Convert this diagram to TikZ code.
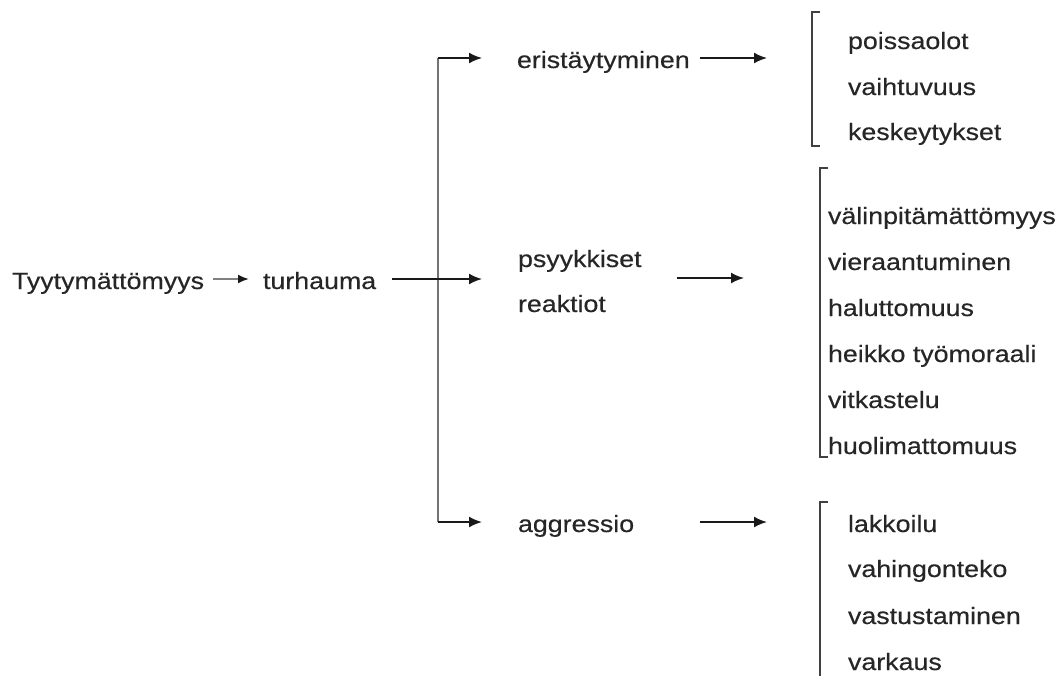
\documentclass[tikz,border=0pt]{standalone}
\usepackage{fontspec}
\setmainfont{Liberation Sans}[FakeStretch=1.14,FakeBold=0.4]
\usetikzlibrary{arrows.meta}
\tikzset{
  lbl/.style={anchor=base west, inner sep=0pt, outer sep=0pt, text=black!85, font=\fontsize{23.5}{27}\selectfont},
  arr/.style={line width=1.9pt, draw=black!90, -{Latex[length=13pt,width=11pt]}},
  garr/.style={line width=1.9pt, draw=black!50, -{Latex[length=11pt,width=9pt,color=black!90]}},
  trunk/.style={line width=2pt, draw=black!55},
  brk/.style={line width=1.8pt, draw=black!75}
}
\begin{document}
\begin{tikzpicture}[x=1pt,y=-1pt]
\useasboundingbox (0,0) rectangle (1062,675);
% left chain
\node[lbl] (tyy) at (12,289) {Tyytymättömyys};
\node[lbl] (tur) at (263,289) {turhauma};
\coordinate (a1s) at (213,279);
\coordinate (a1e) at (249,279);
\draw[garr] (a1s) -- (a1e);
% trunk
\coordinate (tTop) at (438,58);
\coordinate (tBot) at (438,522);
\draw[trunk] (tTop) -- (tBot);
\coordinate (a2s) at (392,279);
\coordinate (a2e) at (482,279);
\draw[arr] (a2s) -- (a2e);
\coordinate (a3e) at (482,58);
\coordinate (a4e) at (482,522);
\draw[arr] (tTop) -- (a3e);
\draw[arr] (tBot) -- (a4e);
% middle labels
\node[lbl] (eri) at (517,68) {eristäytyminen};
\node[lbl] (psy) at (518,267) {psyykkiset};
\node[lbl] (rea) at (518,312) {reaktiot};
\node[lbl] (agg) at (518,532) {aggressio};
% arrows to brackets
\coordinate (b1s) at (700,58);
\coordinate (b1e) at (767,58);
\draw[arr] (b1s) -- (b1e);
\coordinate (b2s) at (677,278);
\coordinate (b2e) at (744,278);
\draw[arr] (b2s) -- (b2e);
\coordinate (b3s) at (700,522);
\coordinate (b3e) at (767,522);
\draw[arr] (b3s) -- (b3e);
% brackets
\draw[brk] (820,12) -- (812,12) -- (812,146) -- (820,146);
\draw[brk] (828,168) -- (820,168) -- (820,457) -- (828,457);
\draw[brk] (828,502) -- (820,502) -- (820,680);
% right items group 1
\node[lbl] (r11) at (848,49) {poissaolot};
\node[lbl] (r12) at (848,95) {vaihtuvuus};
\node[lbl] (r13) at (848,140) {keskeytykset};
% group 2
\node[lbl] (r21) at (828,224) {välinpitämättömyys};
\node[lbl] (r22) at (828,270) {vieraantuminen};
\node[lbl] (r23) at (828,316) {haluttomuus};
\node[lbl] (r24) at (828,362) {heikko työmoraali};
\node[lbl] (r25) at (828,408) {vitkastelu};
\node[lbl] (r26) at (828,454) {huolimattomuus};
% group 3
\node[lbl] (r31) at (848,532) {lakkoilu};
\node[lbl] (r32) at (848,577) {vahingonteko};
\node[lbl] (r33) at (848,624) {vastustaminen};
\node[lbl] (r34) at (848,670) {varkaus};
\end{tikzpicture}
\end{document}
